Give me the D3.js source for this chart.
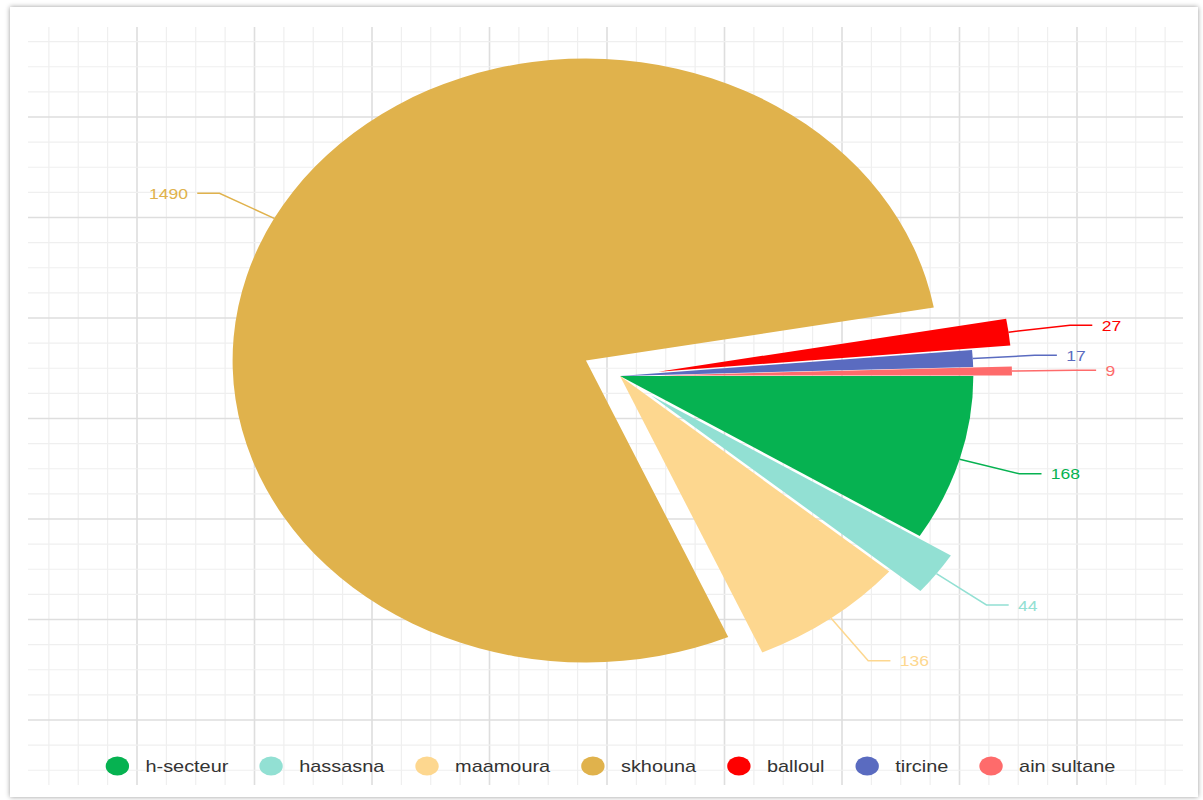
<!DOCTYPE html>
<html>
<head>
<meta charset="utf-8">
<script src="https://cdn.jsdelivr.net/npm/d3@7"></script>
<style>
  html, body { margin: 0; padding: 0; background: #fff; }
  svg { display: block; }
</style>
</head>
<body>
<svg id="chart" width="1203" height="800"></svg>
<script>
// Slice data
const categories = ["h-secteur", "hassasna", "maamoura", "skhouna", "balloul", "tircine", "ain sultane"];
const values = [168, 44, 136, 1490, 27, 17, 9];
const colors = ["#06b251", "#92e0d3", "#fdd78f", "#e0b24c", "#fe0000", "#5a6bc0", "#fe6b6b"];
// Slices pulled out of the pie
const selectedSlices = ["hassasna", "skhouna", "balloul", "ain sultane"];

const sx = 1.17;          // horizontal stretch of the drawing
const R = 302;            // pie radius
const pullOut = 33;       // offset of pulled-out slices
const len1 = 53, len2 = 19, labelGap = 8;

const svg = d3.select("#chart");

// Panel with a soft shadow
const defs = svg.append("defs");
const flt = defs.append("filter").attr("id", "shadow")
  .attr("x", "-5%").attr("y", "-5%").attr("width", "110%").attr("height", "110%");
flt.append("feDropShadow").attr("dx", 0).attr("dy", 0)
  .attr("stdDeviation", 2.5).attr("flood-color", "#000").attr("flood-opacity", 0.4);
svg.append("rect")
  .attr("x", 10).attr("y", 7).attr("width", 1188).attr("height", 790)
  .attr("fill", "#fff").attr("filter", "url(#shadow)");

// Graph-paper background grid
const gx = d3.scaleLinear().domain([0, 1]).range([137, 137 + 29.375]);
const gy = d3.scaleLinear().domain([0, 1]).range([117, 117 + 25.125]);
const grid = svg.append("g");
d3.range(-3, 36).forEach(k => {
  grid.append("line")
    .attr("x1", gx(k)).attr("x2", gx(k)).attr("y1", 27).attr("y2", 785)
    .attr("stroke", k % 4 === 0 ? "#dedede" : "#efefef")
    .attr("stroke-width", k % 4 === 0 ? 1.6 : 1.2);
});
d3.range(-3, 27).forEach(k => {
  grid.append("line")
    .attr("x1", 28).attr("x2", 1183).attr("y1", gy(k)).attr("y2", gy(k))
    .attr("stroke", k % 4 === 0 ? "#dedede" : "#efefef")
    .attr("stroke-width", k % 4 === 0 ? 1.6 : 1.2);
});

// Pie, starting at 3 o'clock and running clockwise
const pie = d3.pie().sort(null).value(d => d)
  .startAngle(Math.PI / 2).endAngle(Math.PI / 2 + 2 * Math.PI);
const arcs = pie(values);
const arc = d3.arc().innerRadius(0).outerRadius(R);

const g = svg.append("g").attr("transform", `translate(620,376) scale(${sx},1)`);

arcs.forEach((a, i) => {
  const mid = (a.startAngle + a.endAngle) / 2;
  const ux = Math.sin(mid), uy = -Math.cos(mid);
  const o = selectedSlices.includes(categories[i]) ? pullOut : 0;
  const cx = ux * o, cy = uy * o;

  g.append("path")
    .attr("d", arc(a))
    .attr("transform", `translate(${cx},${cy})`)
    .attr("fill", colors[i]);

  // Label line and value
  const side = ux >= 0 ? 1 : -1;
  const p0 = [cx + ux * R, cy + uy * R];
  const p1 = [cx + ux * (R + len1), cy + uy * (R + len1)];
  const p2 = [p1[0] + side * len2, p1[1]];
  g.append("path")
    .attr("d", d3.line()([p0, p1, p2]))
    .attr("fill", "none")
    .attr("stroke", colors[i])
    .attr("stroke-width", 1.5)
    .attr("vector-effect", "non-scaling-stroke");
  g.append("text")
    .attr("x", p2[0] + side * labelGap)
    .attr("y", p2[1])
    .attr("text-anchor", side > 0 ? "start" : "end")
    .attr("dominant-baseline", "central")
    .attr("font-family", "Liberation Sans, Arial, sans-serif")
    .attr("font-size", 15)
    .attr("fill", colors[i])
    .text(values[i]);
});

// Legend
const legend = svg.append("g");
const items = [];
let xPos = 0;
const dotD = 20, dotGap = 14, itemGap = 26.5;
categories.forEach((c, i) => {
  const item = legend.append("g");
  item.append("ellipse")
    .attr("cx", dotD / 2).attr("cy", 0).attr("rx", dotD / 2).attr("ry", 9.5)
    .attr("fill", colors[i]);
  const t = item.append("text")
    .attr("x", dotD + dotGap).attr("y", 0)
    .attr("dominant-baseline", "central")
    .attr("font-family", "Liberation Sans, Arial, sans-serif")
    .attr("font-size", 17)
    .attr("fill", "#333")
    .text(c);
  const w = t.node().getComputedTextLength();
  item.attr("transform", `translate(${xPos},0)`);
  xPos += dotD + dotGap + w + itemGap;
});
const total = xPos - itemGap;
legend.attr("transform", `translate(${610.5 - total * sx / 2},766) scale(${sx},1)`);
</script>
</body>
</html>
